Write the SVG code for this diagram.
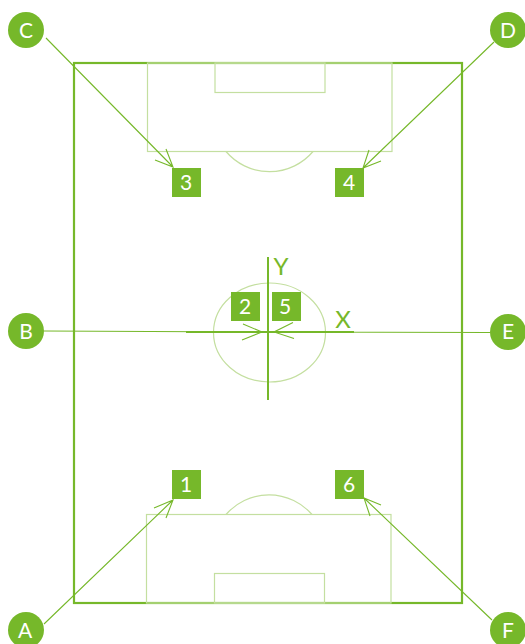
<svg xmlns="http://www.w3.org/2000/svg" width="525" height="644" viewBox="0 0 525 644">
<style>
.lbl{font-family:"Lato","Open Sans","Liberation Sans",sans-serif;font-size:21px;fill:#fff;text-anchor:middle}
.num{font-size:21px}
.ax{font-family:"Lato","Open Sans","Liberation Sans",sans-serif;font-size:24px;fill:#76b82a;text-anchor:middle}
.node{fill:#76b82a}
.field{fill:none;stroke:#c4dfa0;stroke-width:1.2}
.thin{fill:none;stroke:#76b82a;stroke-width:1.1}
.axis{fill:none;stroke:#76b82a;stroke-width:2}
</style>
<g id="pitch">
<rect x="74" y="63" width="388" height="540" fill="none" stroke="#76b82a" stroke-width="2.2"/>
<rect class="field" x="147.500" y="63" width="244.500" height="88.500"/>
<rect class="field" x="215" y="63" width="110" height="29.500"/>
<path class="field" d="M226 151.500A57 57 0 0 0 313 151.500"/>
<rect class="field" x="146.500" y="514.500" width="244.500" height="88.500"/>
<rect class="field" x="214.500" y="573.500" width="110" height="29.500"/>
<path class="field" d="M226 514.500A57 57 0 0 1 312 514.500"/>
<ellipse class="field" cx="269.500" cy="332.500" rx="56" ry="49.500"/>
</g>
<g id="axes">
<path class="axis" d="M186 332H354M268 257V400"/>
<text class="ax" x="281" y="275">Y</text>
<text class="ax" x="343" y="328">X</text>
</g>
<g id="connectors">
<path class="thin" d="M46 38L173 167M166 149L173 167L155 160"/>
<path class="thin" d="M494 42L363 168M369 150L363 168L381 161"/>
<path class="thin" d="M44 624L173 500M154 508L173 500L166 518"/>
<path class="thin" d="M492 620L364 498M381 505L364 498L370 516"/>
<path class="thin" d="M44 331L262 332M243 324L262 332L242 340"/>
<path class="thin" d="M490 332.500L274 332M293 322.500L274 332L294 338.500"/>
</g>
<g id="node-a"><circle class="node" cx="26" cy="630" r="18"/><text class="lbl" x="25" y="638">A</text></g>
<g id="node-b"><circle class="node" cx="26" cy="331" r="18"/><text class="lbl" x="26" y="338.500">B</text></g>
<g id="node-c"><circle class="node" cx="26" cy="30" r="18"/><text class="lbl" x="26" y="38">C</text></g>
<g id="node-d"><circle class="node" cx="508" cy="30" r="18"/><text class="lbl" x="508" y="38">D</text></g>
<g id="node-e"><circle class="node" cx="508" cy="332" r="18"/><text class="lbl" x="508" y="339">E</text></g>
<g id="node-f"><circle class="node" cx="508" cy="630" r="18"/><text class="lbl" x="508" y="638">F</text></g>
<g id="node-1"><rect class="node" x="172" y="470" width="29" height="29"/><text class="lbl num" x="186" y="492">1</text></g>
<g id="node-2"><rect class="node" x="231" y="292" width="29" height="29"/><text class="lbl num" x="245" y="314">2</text></g>
<g id="node-3"><rect class="node" x="172" y="168" width="29" height="29"/><text class="lbl num" x="186" y="190">3</text></g>
<g id="node-4"><rect class="node" x="335" y="168" width="29" height="29"/><text class="lbl num" x="349" y="190">4</text></g>
<g id="node-5"><rect class="node" x="272" y="292" width="29" height="29"/><text class="lbl num" x="285" y="314">5</text></g>
<g id="node-6"><rect class="node" x="335" y="470" width="29" height="29"/><text class="lbl num" x="349" y="492">6</text></g>
</svg>
